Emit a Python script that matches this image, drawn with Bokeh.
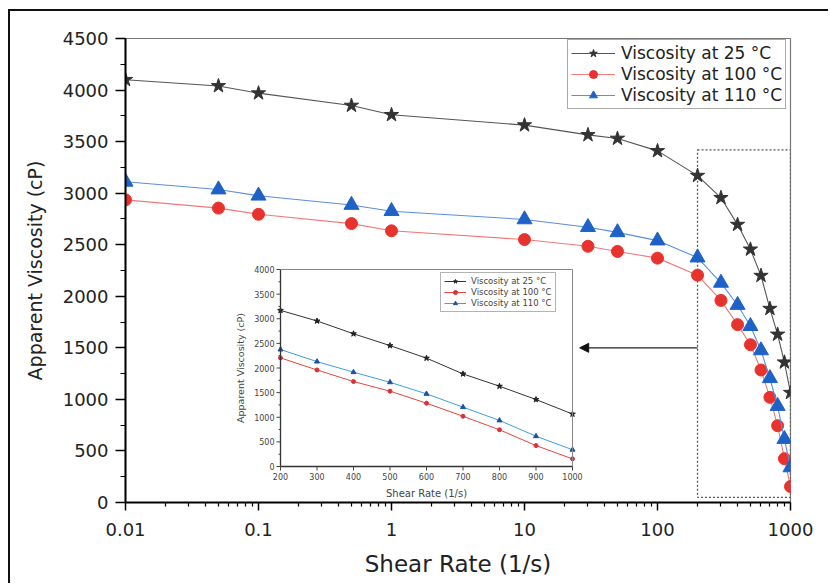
import numpy as np
from bokeh.plotting import figure
from bokeh.models import (Range1d, LinearScale, FixedTicker, SingleIntervalTicker,
                          Legend, LegendItem, Arrow, NormalHead)
from bokeh.core.properties import value
from bokeh.embed import file_html
from bokeh.resources import INLINE

# ---- data -------------------------------------------------------------
shear_rate = [0.01, 0.05, 0.1, 0.5, 1, 10, 30, 50, 100,
              200, 300, 400, 500, 600, 700, 800, 900, 1000]
visc_25 = [4100, 4040, 3970, 3850, 3760, 3660, 3565, 3530, 3410,
           3170, 2955, 2695, 2455, 2200, 1880, 1630, 1360, 1065]
visc_100 = [2935, 2855, 2795, 2705, 2635, 2550, 2485, 2435, 2370,
            2205, 1960, 1725, 1530, 1285, 1020, 745, 425, 155]
visc_110 = [3110, 3035, 2975, 2885, 2825, 2745, 2670, 2620, 2540,
            2375, 2130, 1915, 1710, 1475, 1205, 935, 615, 340]
series_labels = ["Viscosity at 25 \u00b0C", "Viscosity at 100 \u00b0C", "Viscosity at 110 \u00b0C"]

x_ticks = [0.01, 0.1, 1, 10, 100, 1000]
x_tick_labels = ["0.01", "0.1", "1", "10", "100", "1000"]

# zoomed-in region shown in the inset (high shear rates)
inset_start = 9                      # first point at 200 1/s
inset_x_ticks = [200, 300, 400, 500, 600, 700, 800, 900, 1000]
inset_y_ticks = [0, 500, 1000, 1500, 2000, 2500, 3000, 3500, 4000]
inset_y_minor = [250, 750, 1250, 1750, 2250, 2750, 3250, 3750]
zoom_box = [200, 1000, 50, 3420]     # left, right, bottom, top
arrow_from = [200, 1500]
arrow_to = [26, 1500]

FONT = "DejaVu Sans"
TXT = "#222222"

# ---- main figure ------------------------------------------------------
p = figure(width=820, height=574, x_axis_type="log",
           x_range=Range1d(0.01, 1000), y_range=Range1d(0, 4500),
           output_backend="svg", toolbar_location=None,
           min_border_left=115, min_border_right=40,
           min_border_top=27, min_border_bottom=83,
           background_fill_color="white", border_fill_color="white",
           styles={"margin-left": "8px", "margin-top": "9px",
                   "border-left": "2px solid #111", "border-top": "2px solid #111"})
p.xgrid.visible = False
p.ygrid.visible = False
p.outline_line_color = "#777777"
p.outline_line_width = 1.2

# inset coordinate system: placed inside the frame (pixels from frame's bottom-left)
FRAME_W, FRAME_H = 665, 464
in_left, in_right, in_bottom, in_top = 155, 447, 36, 233
sx = (inset_x_ticks[-1] - inset_x_ticks[0]) / (in_right - in_left)
sy = (inset_y_ticks[-1] - inset_y_ticks[0]) / (in_top - in_bottom)
ix0 = inset_x_ticks[0] - in_left * sx
iy0 = inset_y_ticks[0] - in_bottom * sy
p.extra_x_ranges = {"ix": Range1d(ix0, ix0 + FRAME_W * sx)}
p.extra_x_scales = {"ix": LinearScale()}
p.extra_y_ranges = {"iy": Range1d(iy0, iy0 + FRAME_H * sy)}
p.extra_y_scales = {"iy": LinearScale()}

# dashed box marking the zoomed region
p.quad(left=[zoom_box[0]], right=[zoom_box[1]], bottom=[zoom_box[2]], top=[zoom_box[3]],
       fill_color=None, line_color="#555555", line_dash="2 2", line_width=1.3)

styles = [
    dict(y=visc_25, line="#555555", marker="star", size=15, fill="#333333", isize=6,
         iline="#333333", ifill="#222222"),
    dict(y=visc_100, line="#f07a7a", marker="circle", size=12, fill="#e8322e", isize=4,
         iline="#e8453c", ifill="#d8323a"),
    dict(y=visc_110, line="#5b8ee0", marker="triangle", size=15, fill="#1e62c8", isize=5,
         iline="#3aa0e0", ifill="#1f4fa8"),
]

main_items, inset_items = [], []
for lab, st in zip(series_labels, styles):
    lr = p.line(shear_rate, st["y"], line_color=st["line"], line_width=1.1)
    sr = p.scatter(shear_rate, st["y"], marker=st["marker"], size=st["size"],
                   fill_color=st["fill"], line_color=st["fill"])
    main_items.append(LegendItem(label=lab, renderers=[lr, sr]))

    xi = shear_rate[inset_start:]
    yi = st["y"][inset_start:]
    ilr = p.line(xi, yi, line_color=st["iline"], line_width=1,
                 x_range_name="ix", y_range_name="iy")
    isr = p.scatter(xi, yi, marker=st["marker"], size=st["isize"],
                    fill_color=st["ifill"], line_color=st["ifill"],
                    x_range_name="ix", y_range_name="iy")
    inset_items.append(LegendItem(label=lab, renderers=[ilr, isr]))

# arrow from the dashed box to the inset
p.add_layout(Arrow(x_start=arrow_from[0], y_start=arrow_from[1],
                   x_end=arrow_to[0], y_end=arrow_to[1],
                   line_color="#222222", line_width=1.2,
                   end=NormalHead(size=9, fill_color="#111111", line_color="#111111")))

# ---- inset axes ---------------------------------------------------------
xa, xb = inset_x_ticks[0], inset_x_ticks[-1]
ya, yb = inset_y_ticks[0], inset_y_ticks[-1]
p.segment(x0=[xa, xa], y0=[ya, ya], x1=[xa, xb], y1=[yb, ya],
          line_color="#333333", line_width=1.3, x_range_name="ix", y_range_name="iy")
p.segment(x0=[xa, xb], y0=[yb, ya], x1=[xb, xb], y1=[yb, yb],
          line_color="#888888", line_width=1, x_range_name="ix", y_range_name="iy")
# ticks
p.segment(x0=[xa] * len(inset_y_ticks), y0=inset_y_ticks,
          x1=[xa - 4 * sx] * len(inset_y_ticks), y1=inset_y_ticks,
          line_color="#444444", line_width=1, x_range_name="ix", y_range_name="iy")
p.segment(x0=[xa] * len(inset_y_minor), y0=inset_y_minor,
          x1=[xa - 2 * sx] * len(inset_y_minor), y1=inset_y_minor,
          line_color="#444444", line_width=1, x_range_name="ix", y_range_name="iy")
p.segment(x0=inset_x_ticks, y0=[ya] * len(inset_x_ticks),
          x1=inset_x_ticks, y1=[ya - 4 * sy] * len(inset_x_ticks),
          line_color="#444444", line_width=1, x_range_name="ix", y_range_name="iy")
# tick labels
p.text(x=[xa] * len(inset_y_ticks), y=inset_y_ticks, text=[str(v) for v in inset_y_ticks],
       x_offset=-6, text_align="right", text_baseline="middle",
       text_font=value(FONT), text_font_size="8px", text_color="#444444",
       x_range_name="ix", y_range_name="iy")
p.text(x=inset_x_ticks, y=[ya] * len(inset_x_ticks), text=[str(v) for v in inset_x_ticks],
       y_offset=6, text_align="center", text_baseline="top",
       text_font=value(FONT), text_font_size="8px", text_color="#444444",
       x_range_name="ix", y_range_name="iy")
# axis titles
p.text(x=[(xa + xb) / 2], y=[ya], text=["Shear Rate (1/s)"], y_offset=21,
       text_align="center", text_baseline="top",
       text_font=value(FONT), text_font_size="10px", text_color="#444444",
       x_range_name="ix", y_range_name="iy")
p.text(x=[xa], y=[(ya + yb) / 2], text=["Apparent Viscosity (cP)"], angle=np.pi / 2,
       x_offset=-40, text_align="center", text_baseline="middle",
       text_font=value(FONT), text_font_size="9.5px", text_color="#444444",
       x_range_name="ix", y_range_name="iy")

# ---- main axes ------------------------------------------------------------
for ax in (p.xaxis[0], p.yaxis[0]):
    ax.axis_line_color = "black"
    ax.axis_line_width = 2
    ax.major_tick_line_color = "black"
    ax.major_tick_line_width = 1.5
    ax.minor_tick_line_color = "black"
    ax.minor_tick_line_width = 1.2
    ax.major_tick_in = 0
    ax.minor_tick_in = 0
    ax.major_label_text_font = FONT
    ax.major_label_text_font_size = "18px"
    ax.major_label_text_color = TXT
    ax.axis_label_text_font = FONT
    ax.axis_label_text_font_style = "normal"
    ax.axis_label_text_color = TXT

p.yaxis.ticker = SingleIntervalTicker(interval=500, num_minor_ticks=2)
p.yaxis.major_tick_out = 10
p.yaxis.minor_tick_out = 5
p.yaxis.major_label_standoff = 7
p.yaxis.axis_label = "Apparent Viscosity (cP)"
p.yaxis.axis_label_text_font_size = "19px"
p.yaxis.axis_label_standoff = 14

minor = [m * t for t in x_ticks[:-1] for m in range(2, 10)]
p.xaxis.ticker = FixedTicker(ticks=x_ticks, minor_ticks=minor)
p.xaxis.major_label_overrides = dict(zip(x_ticks, x_tick_labels))
p.xaxis.major_tick_out = 8
p.xaxis.minor_tick_out = 4
p.xaxis.major_label_standoff = 12
p.xaxis.axis_label = "Shear Rate (1/s)"
p.xaxis.axis_label_text_font_size = "23px"
p.xaxis.axis_label_standoff = 12

# ---- legends ----------------------------------------------------------------
main_legend = Legend(items=main_items, location=(442, 393),
                     label_text_font=FONT, label_text_font_size="17px",
                     label_text_color=TXT, glyph_width=44, glyph_height=20,
                     label_height=20, spacing=1, padding=3, margin=0,
                     label_standoff=6, border_line_color="#555555",
                     border_line_width=1.5, background_fill_alpha=1)
inset_legend = Legend(items=inset_items, location=(315, 190),
                      label_text_font=FONT, label_text_font_size="8.5px",
                      label_text_color="#444444", glyph_width=22, glyph_height=10,
                      label_height=10, spacing=1, padding=3, margin=0,
                      label_standoff=5, border_line_color="#666666",
                      border_line_width=1, background_fill_alpha=1)
p.add_layout(main_legend, "center")
p.add_layout(inset_legend, "center")

open("out.html", "w").write(file_html(p, INLINE))
